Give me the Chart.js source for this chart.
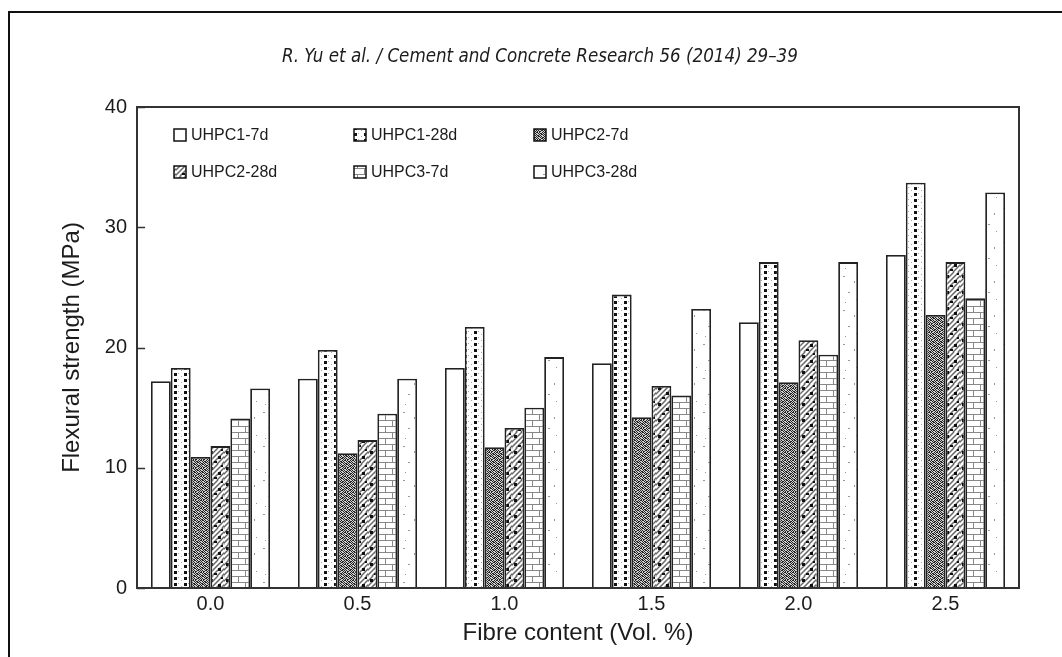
<!DOCTYPE html>
<html>
<head>
<meta charset="utf-8">
<script src="https://cdn.jsdelivr.net/npm/chart.js@4.4.0/dist/chart.umd.min.js"></script>
<style>
  html, body { margin: 0; padding: 0; background: #fff; }
  #wrap { width: 1062px; height: 657px; }
</style>
</head>
<body>
<div id="wrap"><canvas id="chart" width="1062" height="657"></canvas></div>
<script>
// Fibre content (Vol. %) categories
const fibreContent = ['0.0', '0.5', '1.0', '1.5', '2.0', '2.5'];

// Flexural strength (MPa)
const uhpc1_7d  = [17.2, 17.4, 18.3, 18.7, 22.1, 27.7];
const uhpc1_28d = [18.3, 19.8, 21.7, 24.4, 27.1, 33.7];
const uhpc2_7d  = [10.9, 11.2, 11.7, 14.2, 17.1, 22.7];
const uhpc2_28d = [11.8, 12.3, 13.3, 16.8, 20.6, 27.1];
const uhpc3_7d  = [14.1, 14.5, 15.0, 16.0, 19.4, 24.1];
const uhpc3_28d = [16.6, 17.4, 19.2, 23.2, 27.1, 32.9];

const seriesNames = ['UHPC1-7d', 'UHPC1-28d', 'UHPC2-7d', 'UHPC2-28d', 'UHPC3-7d', 'UHPC3-28d'];
const seriesValues = [uhpc1_7d, uhpc1_28d, uhpc2_7d, uhpc2_28d, uhpc3_7d, uhpc3_28d];

const yTicks = [0, 10, 20, 30, 40];

const headerText = 'R. Yu et al. / Cement and Concrete Research 56 (2014) 29\u201339';
const xTitle = 'Fibre content (Vol. %)';
const yTitle = 'Flexural strength (MPa)';

const TEXT = '#1c1c1c';
const LINE = '#333';
const FONT = 'Arial, "Liberation Sans", sans-serif';

// --- fill patterns (black & white print style) ---
function makePattern(w, h, draw) {
    const c = document.createElement('canvas');
    c.width = w;
    c.height = h;
    const g = c.getContext('2d');
    g.fillStyle = '#fff';
    g.fillRect(0, 0, w, h);
    draw(g);
    return g.createPattern(c, 'repeat');
}

function bitmap(g, rows, on, off) {
    rows.forEach((row, y) => {
        for (let x = 0; x < row.length; x++) {
            g.fillStyle = row[x] === '1' ? on : off;
            g.fillRect(x, y, 1, 1);
        }
    });
}

const patterns = [
    '#fff',
    // dotted columns
    makePattern(10, 6, g => {
        g.fillStyle = '#111';
        g.fillRect(4, 1, 3, 3);
        g.fillStyle = '#aaa';
        g.fillRect(1, 4, 1, 1);
        g.fillRect(8, 1, 1, 1);
    }),
    // speckle
    makePattern(8, 8, g => {
        bitmap(g, [
            '10110100',
            '01001011',
            '10100110',
            '01011001',
            '11010010',
            '00101101',
            '10010110',
            '01101001'
        ], '#222', '#d0d0d0');
    }),
    // diagonal hatch with black blobs
    makePattern(16, 16, g => {
        g.strokeStyle = '#666';
        g.lineWidth = 1.5;
        for (let k = -16; k <= 32; k += 5) {
            g.beginPath();
            g.moveTo(k, 16);
            g.lineTo(k + 16, 0);
            g.stroke();
        }
        g.fillStyle = '#111';
        g.fillRect(2, 3, 3, 3);
        g.fillRect(10, 8, 3, 3);
        g.fillRect(6, 13, 3, 2);
        g.fillRect(13, 1, 2, 2);
    }),
    // brick
    makePattern(14, 12, g => {
        g.strokeStyle = '#888';
        g.lineWidth = 1;
        g.beginPath();
        g.moveTo(0, 0.5); g.lineTo(14, 0.5);
        g.moveTo(0, 6.5); g.lineTo(14, 6.5);
        g.moveTo(0.5, 0); g.lineTo(0.5, 6.5);
        g.moveTo(7.5, 6.5); g.lineTo(7.5, 12);
        g.stroke();
    }),
    // sparse dots
    makePattern(20, 34, g => {
        g.fillStyle = '#999';
        g.fillRect(3, 4, 2, 1);
        g.fillRect(14, 9, 1, 2);
        g.fillRect(8, 20, 2, 1);
        g.fillRect(16, 27, 1, 1);
        g.fillRect(5, 30, 1, 1);
    })
];

// frame, inward ticks, header and legend
const decorPlugin = {
    id: 'decor',
    afterDraw(chart) {
        const ctx = chart.ctx;
        const area = chart.chartArea;
        const yScale = chart.scales.y;
        ctx.save();

        // page frame
        ctx.strokeStyle = '#111';
        ctx.lineWidth = 2;
        ctx.beginPath();
        ctx.moveTo(1062, 12);
        ctx.lineTo(9, 12);
        ctx.lineTo(9, 657);
        ctx.stroke();

        // plot box
        ctx.strokeStyle = LINE;
        ctx.lineWidth = 2;
        ctx.strokeRect(area.left, area.top, area.right - area.left, area.bottom - area.top);

        // inward y ticks
        ctx.lineWidth = 1.5;
        yTicks.forEach(v => {
            const y = Math.round(yScale.getPixelForValue(v)) + 0.5;
            ctx.beginPath();
            ctx.moveTo(area.left, y);
            ctx.lineTo(area.left + 8, y);
            ctx.stroke();
        });

        // header line
        let size = 20;
        ctx.font = 'italic ' + size + 'px "Liberation Sans Narrow", "DejaVu Sans Condensed", sans-serif';
        const w = ctx.measureText(headerText).width;
        size = Math.max(15, Math.min(24, size * 517 / w));
        ctx.font = 'italic ' + size.toFixed(1) + 'px "Liberation Sans Narrow", "DejaVu Sans Condensed", sans-serif';
        ctx.fillStyle = TEXT;
        ctx.textAlign = 'center';
        ctx.textBaseline = 'middle';
        ctx.fillText(headerText, 540, 57);

        // legend, 3 columns x 2 rows
        const cols = [174, 354, 534];
        const rows = [135, 172];
        ctx.font = '16px ' + FONT;
        ctx.textAlign = 'left';
        chart.data.datasets.forEach((ds, i) => {
            const x = cols[i % 3];
            const y = rows[Math.floor(i / 3)];
            ctx.fillStyle = ds.backgroundColor;
            ctx.fillRect(x, y - 6, 12, 12);
            ctx.strokeStyle = '#111';
            ctx.lineWidth = 1.5;
            ctx.strokeRect(x, y - 6, 12, 12);
            ctx.fillStyle = TEXT;
            ctx.fillText(ds.label, x + 17, y + 1);
        });

        ctx.restore();
    }
};

new Chart(document.getElementById('chart'), {
    type: 'bar',
    data: {
        labels: fibreContent,
        datasets: seriesNames.map((name, i) => ({
            label: name,
            data: seriesValues[i],
            backgroundColor: patterns[i],
            borderColor: '#222',
            borderWidth: 1.8,
            borderSkipped: 'bottom',
            categoryPercentage: 0.81,
            barPercentage: 1.0
        }))
    },
    options: {
        responsive: false,
        animation: false,
        layout: { padding: { left: 0, top: 107, right: 43, bottom: 0 } },
        plugins: {
            legend: { display: false },
            tooltip: { enabled: false }
        },
        scales: {
            x: {
                grid: { display: false, drawTicks: false },
                border: { display: false },
                ticks: { color: TEXT, font: { family: FONT, size: 20 }, padding: 4 },
                title: {
                    display: true,
                    text: xTitle,
                    color: TEXT,
                    font: { family: FONT, size: 24 },
                    padding: { top: 0, bottom: 9 }
                },
                afterFit: s => { s.height = 69; }
            },
            y: {
                min: 0,
                max: 40,
                grid: { display: false, drawTicks: false },
                border: { display: false },
                ticks: { stepSize: 10, color: TEXT, font: { family: FONT, size: 20 }, padding: 10 },
                title: {
                    display: true,
                    text: yTitle,
                    color: TEXT,
                    font: { family: FONT, size: 24 },
                    padding: { top: 58, bottom: 0 }
                },
                afterFit: s => { s.width = 137; }
            }
        }
    },
    plugins: [decorPlugin]
});
</script>
</body>
</html>
